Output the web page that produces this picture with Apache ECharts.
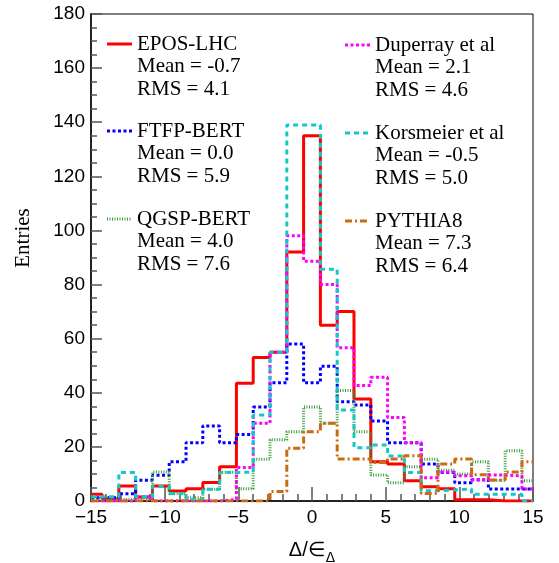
<!DOCTYPE html>
<html>
<head>
<meta charset="utf-8">
<script src="https://cdn.jsdelivr.net/npm/echarts@6/dist/echarts.min.js"></script>
<style>html,body{margin:0;padding:0;background:#fff;}#c{width:559px;height:563px;}</style>
</head>
<body>
<div id="c"></div>
<script>
// Bin edges (x) of the histograms; 27 bins (first/last clipped by the axis range)
const binEdges = [-15, -14.25, -13.11, -11.97, -10.83, -9.69, -8.55, -7.41, -6.27, -5.13, -3.99, -2.85, -1.71, -0.57,
  0.57, 1.71, 2.85, 3.99, 5.13, 6.27, 7.41, 8.55, 9.69, 10.83, 11.97, 13.11, 14.25, 15];

const seriesNames = ['EPOS-LHC', 'FTFP-BERT', 'QGSP-BERT', 'Duperray et al', 'Korsmeier et al', 'PYTHIA8'];
const meanLabels = ['-0.7', '0.0', '4.0', '2.1', '-0.5', '7.3'];
const rmsLabels = ['4.1', '5.9', '7.6', '4.6', '5.0', '6.4'];

const eposLHC   = [2.5, 0.7, 5.5, 1.5, 5.5, 3.7, 4.5, 6.8, 12.7, 43.5, 53, 55, 92, 135, 65, 70, 37.7, 14.5, 13.7, 7.5, 5.3, 4.5, 0.5, 0.5, 0, 0, 0];
const ftfpBert  = [1.2, 1.2, 2.7, 7.7, 9.5, 14.5, 21.5, 27.7, 21.5, 24.6, 34.7, 43.7, 58, 43.7, 49.8, 36.7, 35.5, 29.6, 21.5, 21.5, 13.7, 10.5, 6.7, 7.9, 4.4, 4.4, 4.4];
const qgspBert  = [1.0, 0.5, 0.6, 0.5, 10.7, 2.7, 1.2, 4.3, 10.6, 4.5, 15.4, 22.6, 25.6, 34.7, 28.7, 40.8, 25.6, 9.6, 6.7, 12.7, 15.4, 11.4, 10, 14.5, 7.6, 18.6, 7.5];
const duperray  = [0, 0, 0, 1.6, 0, 0, 0, 0, 0.6, 12.4, 28.7, 55, 98, 88.6, 80, 56.6, 42.7, 45.7, 30.9, 21.5, 8.6, 10.7, 9.3, 7.8, 9.6, 9.3, 4.4];
const korsmeier = [1.6, 1.6, 10.5, 1.6, 5.4, 2.8, 0.5, 4.3, 10.5, 10.7, 31.8, 55, 139, 139, 85.7, 33.6, 19.7, 20.7, 16.6, 10.5, 3.8, 4.1, 4.4, 2.5, 2.5, 2.5, 0];
const pythia8   = [0, 0, 0, 0, 0, 0, 0, 0, 0, 0, 0, 3.5, 19.5, 25.6, 28.7, 15.5, 15.5, 14.2, 15.5, 16.7, 2.8, 13.7, 15.5, 9.7, 7.8, 10.7, 14.5];

const yTicks = [0, 20, 40, 60, 80, 100, 120, 140, 160, 180];
const xTicks = [-15, -10, -5, 0, 5, 10, 15];

const allValues = [eposLHC, ftfpBert, qgspBert, duperray, korsmeier, pythia8];
const colors = ['#ff0000', '#0000ff', '#3a9a3a', '#ff00ff', '#14c8c8', '#cc6a10'];
const dashes = ['solid', [3, 2.5], [1, 1.5], [3, 2.5], [5, 4], [7, 3, 2, 3]];

function histData(vals) {
  const d = vals.map((v, i) => [binEdges[i], v]);
  d.push([binEdges[binEdges.length - 1], vals[vals.length - 1]]);
  return d;
}

const series = allValues.map((vals, k) => ({
  name: seriesNames[k],
  type: 'line',
  step: 'end',
  data: histData(vals),
  symbol: 'none',
  lineStyle: { color: colors[k], width: 3, type: dashes[k], cap: 'butt' },
  z: 2 + k,
  clip: true
}));

// Legend drawn as graphics
const legendPos = [[107, 44], [107, 131], [107, 219], [345, 45], [345, 133], [345, 221]];
const lineGap = 22.5;
const graphics = [];
seriesNames.forEach((n, k) => {
  const [lx, ly] = legendPos[k];
  graphics.push({
    type: 'line', z: 100,
    shape: { x1: lx, y1: ly, x2: lx + 25, y2: ly },
    style: { stroke: colors[k], lineWidth: 3, lineDash: dashes[k] === 'solid' ? null : dashes[k] }
  });
  const lines = [n, 'Mean = ' + meanLabels[k], 'RMS = ' + rmsLabels[k]];
  lines.forEach((t, i) => {
    graphics.push({
      type: 'text', z: 100,
      x: lx + 30, y: ly + i * lineGap,
      style: { text: t, font: '21px "Liberation Serif"', fill: '#000', verticalAlign: 'middle', align: 'left' }
    });
  });
});
graphics.push({
  type: 'text', z: 100,
  x: 23, y: 238, rotation: Math.PI / 2,
  style: { text: 'Entries', font: '21px "Liberation Serif"', fill: '#000', verticalAlign: 'middle', align: 'center' }
});

const chart = echarts.init(document.getElementById('c'), null, { renderer: 'canvas' });
chart.setOption({
  animation: false,
  backgroundColor: '#fff',
  grid: {
    left: 91, right: 26, top: 14, bottom: 62, containLabel: false, outerBoundsMode: 'none',
    show: true, borderColor: '#000', borderWidth: 1, backgroundColor: 'transparent'
  },
  xAxis: {
    type: 'value', min: xTicks[0], max: xTicks[xTicks.length - 1], interval: 5,
    axisLine: { show: true, onZero: false, lineStyle: { color: '#222', width: 2 } },
    axisTick: { show: true, inside: true, length: 14, lineStyle: { color: '#555', width: 1.5 } },
    minorTick: { show: true, splitNumber: 5, length: 7, lineStyle: { color: '#555', width: 1.5 } },
    splitLine: { show: false },
    axisLabel: {
      margin: 7, color: '#000', fontSize: 19, fontFamily: 'Liberation Sans',
      formatter: v => String(v).replace('-', '\u2212')
    },
    name: '{a|Δ/∈}{b|Δ}', nameLocation: 'middle', nameGap: 37,
    nameTextStyle: {
      rich: {
        a: { fontSize: 20, fontFamily: 'Liberation Sans', color: '#000', verticalAlign: 'bottom', lineHeight: 22 },
        b: { fontSize: 14, fontFamily: 'Liberation Sans', color: '#000', verticalAlign: 'bottom', lineHeight: 14, padding: [0, 0, -5, 1] }
      }
    }
  },
  yAxis: {
    type: 'value', min: yTicks[0], max: yTicks[yTicks.length - 1], interval: 20,
    axisLine: { show: true, onZero: false, lineStyle: { color: '#222', width: 2 } },
    axisTick: { show: true, inside: true, length: 11, lineStyle: { color: '#555', width: 1.5 } },
    minorTick: { show: true, splitNumber: 4, length: 6, lineStyle: { color: '#555', width: 1.5 } },
    splitLine: { show: false },
    axisLabel: { margin: 6, color: '#000', fontSize: 19, fontFamily: 'Liberation Sans' }
  },
  graphic: graphics,
  series: series
});
</script>
</body>
</html>
